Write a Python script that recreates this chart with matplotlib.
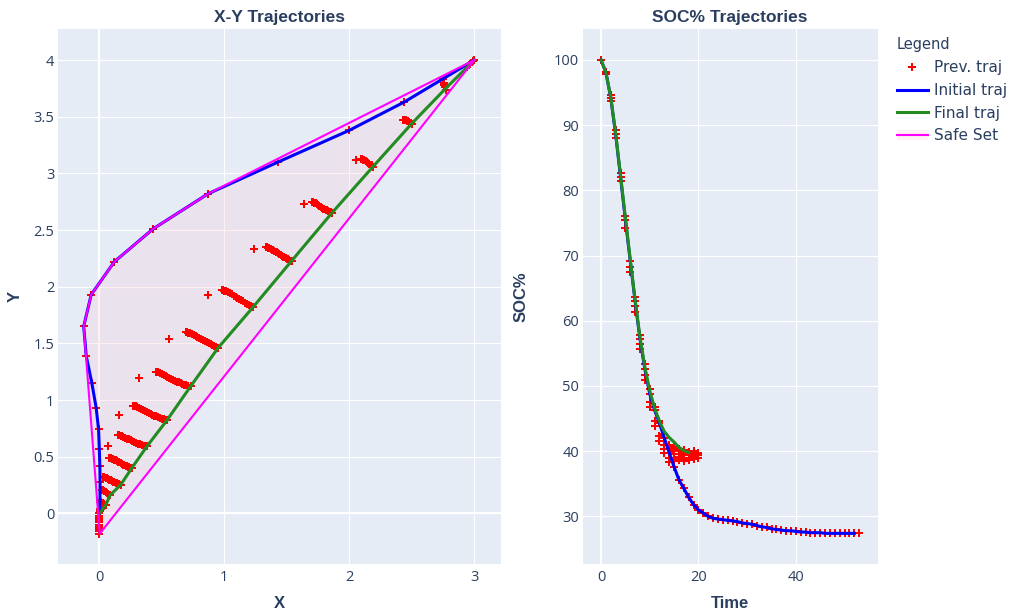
import matplotlib.pyplot as plt
from matplotlib.lines import Line2D
from matplotlib.patches import Patch
from matplotlib.ticker import FuncFormatter

### DATOS ###
#############

# initial trajectory (blue), X-Y plane
init_x = [3.0, 2.44, 2.0, 1.43, 0.87, 0.43, 0.12, -0.065, -0.125, -0.105,
          -0.06, -0.025, -0.006, 0.0, 0.004, 0.006, 0.005, 0.002, 0.0]
init_y = [4.0, 3.63, 3.38, 3.10, 2.82, 2.51, 2.22, 1.93, 1.65, 1.39,
          1.15, 0.93, 0.74, 0.57, 0.42, 0.28, 0.12, 0.04, 0.0]

# initial trajectory SOC, t = 0..52
init_soc = [100.0, 98.1, 94.2, 88.6, 82.1, 75.5, 69.2, 63.0, 57.2, 52.6,
            48.8, 46.3, 44.3, 42.0, 39.8, 37.6, 35.6, 34.3, 32.9, 31.8,
            31.0, 30.5, 30.0, 29.7, 29.6, 29.5, 29.4, 29.3, 29.2, 29.0,
            28.9, 28.8, 28.6, 28.4, 28.3, 28.1, 28.0, 27.9, 27.8, 27.8,
            27.7, 27.6, 27.6, 27.5, 27.5, 27.5, 27.4, 27.4, 27.4, 27.4,
            27.4, 27.4, 27.4]

# final trajectory (green), t = 0..18
final_x = [3.0, 2.78, 2.50, 2.19, 1.86, 1.54, 1.23, 0.95, 0.73, 0.54,
           0.38, 0.26, 0.17, 0.086, 0.05, 0.02, 0.01, 0.003, 0.0]
final_y = [4.0, 3.76, 3.44, 3.06, 2.65, 2.23, 1.82, 1.46, 1.12, 0.82,
           0.59, 0.40, 0.25, 0.16, 0.07, 0.03, 0.01, 0.003, 0.0]
final_soc = [100.0, 98.1, 94.3, 88.8, 82.4, 75.8, 69.4, 63.2, 57.5, 52.9,
             49.3, 46.6, 44.6, 43.0, 42.1, 41.4, 40.6, 40.1, 39.8]

# safe set (convex hull vertices)
safe_x = [3.0, 0.87, 0.43, 0.12, -0.065, -0.125, 0.003, 3.0]
safe_y = [4.0, 2.82, 2.51, 2.22, 1.93, 1.65, -0.18, 4.0]

# previous iterations, X-Y (one list per time step)
prev_x = [
    [2.94, 2.96, 2.99],
    [2.75, 2.755, 2.76, 2.765, 2.77],
    [2.43, 2.435, 2.44, 2.45, 2.46, 2.47, 2.48, 2.49, 2.50],
    [2.05, 2.09, 2.095, 2.10, 2.11, 2.12, 2.13, 2.14, 2.15, 2.16, 2.17, 2.18, 2.19],
    [1.64, 1.70, 1.705, 1.71, 1.72, 1.73, 1.74, 1.75, 1.76, 1.77, 1.78, 1.79,
     1.80, 1.81, 1.82, 1.83, 1.84, 1.85, 1.86],
    [1.24, 1.33, 1.335, 1.34, 1.35, 1.36, 1.37, 1.38, 1.39, 1.40, 1.41, 1.42,
     1.43, 1.44, 1.45, 1.46, 1.47, 1.48, 1.49, 1.50, 1.51, 1.52, 1.53, 1.54],
    [0.87, 0.98, 0.985, 0.99, 1.00, 1.015, 1.03, 1.045, 1.06, 1.075, 1.09,
     1.105, 1.12, 1.135, 1.15, 1.165, 1.18, 1.195, 1.21, 1.23],
    [0.56, 0.69, 0.695, 0.70, 0.71, 0.725, 0.74, 0.755, 0.77, 0.785, 0.80,
     0.815, 0.83, 0.845, 0.86, 0.875, 0.89, 0.905, 0.92, 0.935, 0.95],
    [0.32, 0.45, 0.455, 0.46, 0.47, 0.485, 0.50, 0.515, 0.53, 0.545, 0.56,
     0.575, 0.59, 0.605, 0.62, 0.635, 0.65, 0.665, 0.68, 0.695, 0.71, 0.73],
    [0.16, 0.27, 0.275, 0.28, 0.29, 0.305, 0.32, 0.335, 0.35, 0.365, 0.38,
     0.395, 0.41, 0.425, 0.44, 0.455, 0.47, 0.485, 0.50, 0.515, 0.53, 0.54],
    [0.07, 0.15, 0.155, 0.16, 0.17, 0.18, 0.19, 0.205, 0.22, 0.235, 0.25,
     0.265, 0.28, 0.295, 0.31, 0.325, 0.34, 0.355, 0.37, 0.38],
    [0.08, 0.085, 0.09, 0.10, 0.11, 0.12, 0.13, 0.14, 0.15, 0.16, 0.17,
     0.18, 0.19, 0.20, 0.21, 0.22, 0.23, 0.24, 0.25, 0.26],
    [0.03, 0.035, 0.04, 0.05, 0.06, 0.07, 0.08, 0.09, 0.10, 0.11, 0.12,
     0.13, 0.14, 0.15, 0.16, 0.17],
    [0.02, 0.03, 0.04, 0.05, 0.06, 0.07, 0.08, 0.086],
    [0.006, 0.015, 0.025, 0.035, 0.045, 0.05],
    [0.01, 0.005, 0.0, 0.0, 0.0, 0.0, 0.0, 0.0, 0.0, 0.0, 0.0, 0.0],
]
prev_y = [
    [3.94, 3.96, 3.99],
    [3.83, 3.80, 3.78, 3.76, 3.74],
    [3.47, 3.472, 3.47, 3.468, 3.464, 3.46, 3.455, 3.448, 3.44],
    [3.12, 3.13, 3.128, 3.125, 3.12, 3.115, 3.108, 3.10, 3.093, 3.085, 3.078, 3.07, 3.06],
    [2.73, 2.75, 2.748, 2.745, 2.74, 2.735, 2.728, 2.72, 2.713, 2.705, 2.698, 2.69,
     2.685, 2.68, 2.675, 2.67, 2.662, 2.655, 2.65],
    [2.33, 2.35, 2.349, 2.347, 2.345, 2.338, 2.33, 2.325, 2.32, 2.315, 2.31, 2.303,
     2.295, 2.288, 2.28, 2.273, 2.265, 2.26, 2.255, 2.248, 2.24, 2.235, 2.23, 2.225],
    [1.93, 1.97, 1.969, 1.967, 1.965, 1.958, 1.95, 1.942, 1.932, 1.922, 1.912,
     1.902, 1.892, 1.882, 1.871, 1.86, 1.85, 1.84, 1.83, 1.82],
    [1.54, 1.60, 1.599, 1.597, 1.594, 1.589, 1.583, 1.575, 1.566, 1.557, 1.548,
     1.539, 1.529, 1.52, 1.511, 1.502, 1.493, 1.484, 1.475, 1.465, 1.456],
    [1.19, 1.25, 1.249, 1.247, 1.245, 1.238, 1.23, 1.221, 1.212, 1.203, 1.194,
     1.186, 1.178, 1.17, 1.162, 1.155, 1.148, 1.141, 1.135, 1.13, 1.125, 1.12],
    [0.87, 0.95, 0.949, 0.947, 0.945, 0.938, 0.93, 0.921, 0.912, 0.903, 0.894,
     0.886, 0.878, 0.87, 0.862, 0.855, 0.848, 0.842, 0.836, 0.83, 0.825, 0.82],
    [0.59, 0.69, 0.689, 0.687, 0.685, 0.68, 0.675, 0.668, 0.66, 0.652, 0.645,
     0.637, 0.63, 0.622, 0.615, 0.608, 0.601, 0.597, 0.593, 0.59],
    [0.49, 0.489, 0.487, 0.483, 0.478, 0.473, 0.467, 0.461, 0.455, 0.449, 0.443,
     0.437, 0.431, 0.425, 0.419, 0.414, 0.409, 0.405, 0.401, 0.398],
    [0.32, 0.319, 0.317, 0.313, 0.309, 0.304, 0.298, 0.292, 0.286, 0.28, 0.275,
     0.27, 0.265, 0.26, 0.255, 0.25],
    [0.21, 0.205, 0.198, 0.19, 0.182, 0.173, 0.165, 0.16],
    [0.10, 0.097, 0.092, 0.085, 0.076, 0.07],
    [0.04, 0.02, 0.0, -0.02, -0.04, -0.06, -0.08, -0.10, -0.12, -0.14, -0.16, -0.18],
]

# previous iterations, SOC (extra values per time step, t = 0..20)
prev_soc = [
    [100.0],
    [97.8],
    [93.7, 94.7],
    [88.0, 89.2],
    [81.5, 82.7],
    [74.3, 76.0],
    [67.5, 68.3],
    [61.4, 62.3, 63.6],
    [55.6, 56.4, 57.8],
    [50.9, 51.7, 53.3],
    [46.8, 47.6, 49.6],
    [43.8, 44.7, 46.8],
    [41.5, 42.4, 44.6],
    [39.7, 40.3, 41.0, 42.6],
    [38.4, 39.0, 39.7, 40.3, 41.0],
    [38.5, 39.0, 39.6, 40.1, 40.6],
    [38.6, 39.1, 39.6, 40.0, 40.4],
    [38.5, 38.9, 39.4, 39.9, 40.2],
    [38.6, 39.0, 39.5, 39.9],
    [38.8, 39.2, 39.6, 40.0],
    [39.0, 39.4, 39.8],
]
prev_soc_end = [53, 27.4]

### ESTILO ###
##############
BG = '#E5ECF6'
TXT = '#2a3f5f'
RED = '#FF0000'
BLUE = '#0000FF'
GREEN = '#228B22'
MAG = '#FF00FF'
FILL = (1.0, 0.75, 0.8, 0.22)
LW = 2.2
MS = 6.0
TICK_FONT = 'Open Sans'
TITLE_FONT = 'Liberation Sans'

fig = plt.figure(figsize=(10.18, 6.1), dpi=100)
W, H = 1018, 610
ax1 = fig.add_axes([57.7 / W, 46 / H, 443 / W, 535 / H])
ax2 = fig.add_axes([582.7 / W, 46 / H, 295 / W, 535 / H])

fmt = FuncFormatter(lambda v, _: f'{v:g}')
for ax in (ax1, ax2):
    ax.set_facecolor(BG)
    for s in ax.spines.values():
        s.set_visible(False)
    ax.grid(True, color='white', lw=0.8, zorder=0)
    ax.set_axisbelow(True)
    ax.tick_params(length=0, labelcolor=TXT, labelsize=10.5)
    ax.tick_params(axis='x', pad=4)
    ax.tick_params(axis='y', pad=2.5)
    ax.xaxis.set_major_formatter(fmt)
    ax.yaxis.set_major_formatter(fmt)

# X-Y
ax1.axvline(0, color='white', lw=1.6, zorder=0.5)
ax1.axhline(0, color='white', lw=1.6, zorder=0.5)
ax1.fill(safe_x, safe_y, color=FILL, lw=0, zorder=1)
for xs, ys in zip(prev_x, prev_y):
    ax1.plot(xs, ys, 'P', color=RED, ms=MS, mew=0, zorder=2)
ax1.plot(init_x, init_y, 'P', color=RED, ms=MS, mew=0, zorder=2)
ax1.plot(init_x, init_y, color=BLUE, lw=LW, zorder=3)
ax1.plot(final_x, final_y, color=GREEN, lw=LW, zorder=4)
ax1.plot(safe_x, safe_y, color=MAG, lw=1.5, zorder=6)

ax1.set_xlim(-0.333, 3.211)
ax1.set_ylim(-0.447, 4.274)
ax1.set_xticks([0, 1, 2, 3])
ax1.set_yticks([0, 0.5, 1, 1.5, 2, 2.5, 3, 3.5, 4])

# SOC
t_init = list(range(len(init_soc)))
t_final = list(range(len(final_soc)))
ax2.axvline(0, color='white', lw=1.6, zorder=0.5)
for t, vals in enumerate(prev_soc):
    ax2.plot([t] * len(vals), vals, 'P', color=RED, ms=MS, mew=0, zorder=2)
ax2.plot(t_init, init_soc, 'P', color=RED, ms=MS, mew=0, zorder=2)
ax2.plot([prev_soc_end[0]], [prev_soc_end[1]], 'P', color=RED, ms=MS, mew=0, zorder=2)
ax2.plot(t_init, init_soc, color=BLUE, lw=LW, zorder=3)
ax2.plot(t_final, final_soc, color=GREEN, lw=LW, zorder=4)

ax2.set_xlim(-3.76, 56.8)
ax2.set_ylim(22.7, 104.75)
ax2.set_xticks([0, 20, 40])
ax2.set_yticks([30, 40, 50, 60, 70, 80, 90, 100])

for ax in (ax1, ax2):
    for lab in ax.get_xticklabels() + ax.get_yticklabels():
        lab.set_family(TICK_FONT)

# titulos
tkw = dict(fontsize=12.5, fontweight='bold', color=TXT, family=TITLE_FONT)
ax1.set_title('X-Y Trajectories', pad=5, **tkw)
ax2.set_title('SOC% Trajectories', pad=5, **tkw)

lkw = dict(fontsize=12, fontweight='bold', color=TXT, family=TITLE_FONT)
ax1.set_xlabel('X', **lkw)
ax1.set_ylabel('Y', **lkw)
ax2.set_xlabel('Time', **lkw)
ax2.set_ylabel('SOC%', **lkw)
ax1.xaxis.set_label_coords(0.5, -39 / 535)
ax2.xaxis.set_label_coords(0.5, -39 / 535)
ax1.yaxis.set_label_coords(-(57.7 - 15) / 443, 0.5)
ax2.yaxis.set_label_coords(-(582.7 - 521) / 295, 0.5)
for lab in (ax1.xaxis.label, ax2.xaxis.label):
    lab.set_va('center')
for lab in (ax1.yaxis.label, ax2.yaxis.label):
    lab.set_va('center')
    lab.set_ha('center')

# LEGEND
handles = [
    Line2D([], [], ls='none', marker='P', color=RED, ms=5.5, mew=0),
    Line2D([], [], color=BLUE, lw=LW),
    Line2D([], [], color=GREEN, lw=LW),
    (Patch(facecolor=FILL, lw=0), Line2D([], [], color=MAG, lw=1.5)),
]
labels = ['Prev. traj', 'Initial traj', 'Final traj', 'Safe Set']
leg = fig.legend(handles, labels, title='Legend', loc='upper left',
                 bbox_to_anchor=(897 / W, 1 - 37 / H), frameon=False,
                 alignment='left', borderpad=0, borderaxespad=0,
                 handlelength=2.0, handletextpad=0.4, labelspacing=0.5,
                 prop={'family': 'DejaVu Sans', 'size': 11},
                 title_fontproperties={'family': 'DejaVu Sans', 'size': 10.5})
leg._legend_box.sep = 6
leg.get_title().set_color(TXT)
for txt in leg.get_texts():
    txt.set_color(TXT)

fig.savefig('out.png', dpi=100)
